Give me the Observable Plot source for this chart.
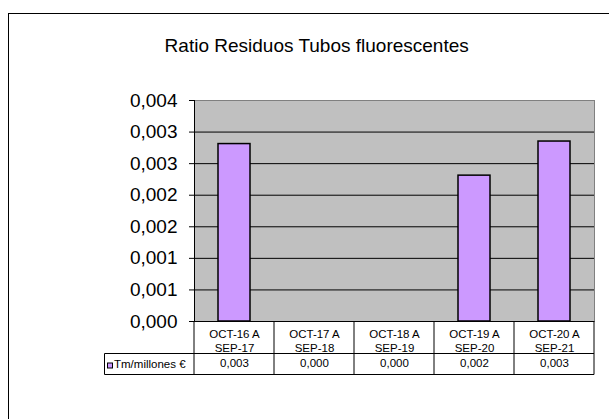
<!DOCTYPE html>
<html><head><meta charset="utf-8">
<script src="https://cdn.jsdelivr.net/npm/d3@7"></script>
<script src="https://cdn.jsdelivr.net/npm/@observablehq/plot@0.6"></script>
<style>
body{margin:0;background:#fff;font-family:"Liberation Sans",Arial,sans-serif;}
#wrap{position:relative;width:609px;height:419px;overflow:hidden;background:#fff}
#border{position:absolute;left:8px;top:13px;width:640px;height:440px;border:1.5px solid #000;box-sizing:border-box}
#title{position:absolute;left:316.7px;top:36.4px;transform:translateX(-50%);font-size:19px;line-height:19px;white-space:nowrap;color:#000}
#chart{position:absolute;left:0;top:0}
</style></head><body>
<div id="wrap"><div id="border"></div><div id="title">Ratio Residuos Tubos fluorescentes</div><div id="chart"></div></div>
<script>
const categories = ["OCT-16 A\nSEP-17", "OCT-17 A\nSEP-18", "OCT-18 A\nSEP-19", "OCT-19 A\nSEP-20", "OCT-20 A\nSEP-21"];
const values = [0.00281, 0, 0, 0.00231, 0.00285];
const yTicks = [0, 0.0005, 0.001, 0.0015, 0.002, 0.0025, 0.003, 0.0035];
const seriesName = "Tm/millones €";

const data = categories.map((c, i) => ({cat: c, value: values[i]}));
const fmt = d => d.toFixed(3).replace(".", ",");
const FONT = "'Liberation Sans', Arial, sans-serif";

const chart = Plot.plot({
  width: 609, height: 419,
  marginTop: 100, marginBottom: 98, marginLeft: 194, marginRight: 15,
  style: {fontFamily: FONT, background: "transparent", color: "#000", overflow: "visible"},
  x: {domain: categories, padding: 0, axis: null},
  y: {domain: [0, 0.0035], axis: null},
  marks: [
    Plot.frame({fill: "#c0c0c0", stroke: "#808080"}),
    Plot.ruleY(yTicks.slice(1, -1), {stroke: "#000", strokeWidth: 1}),
    Plot.barY(data, {x: "cat", y: "value", fill: "#cc99ff", stroke: "#000", strokeWidth: 1.5, insetLeft: 24, insetRight: 24}),
    Plot.ruleY([0], {stroke: "#000"}),
    Plot.frame({anchor: "left", stroke: "#000"}),
    Plot.axisY({ticks: yTicks, tickFormat: fmt, tickSize: 5, tickPadding: 12, fontSize: 19, stroke: "#000", label: null}),
    Plot.axisX({tickSize: 0, tickPadding: 7, fontSize: 11.5, lineHeight: 1.17, label: null}),
    Plot.text(data, {x: "cat", text: d => fmt(d.value), frameAnchor: "bottom", dy: 45, fontSize: 11.5})
  ]
});
document.getElementById("chart").appendChild(chart);

// data table grid, aligned with Plot's x scale
const xs = chart.scale("x");
const ys = chart.scale("y");
const bw = xs.bandwidth;
const edges = categories.map(c => xs.apply(c)).concat([xs.apply(categories[categories.length - 1]) + bw]);
const yTop = ys.apply(0);
const yMid = yTop + 32.5;
const yBot = yTop + 53.5;
const left = 104.5;
const svg = d3.select(chart);
const g = svg.append("g").attr("stroke", "#000").attr("stroke-width", 1);
edges.forEach(x => g.append("line").attr("x1", x).attr("x2", x).attr("y1", yTop).attr("y2", yBot));
g.append("line").attr("x1", left).attr("x2", edges[edges.length - 1]).attr("y1", yMid).attr("y2", yMid);
g.append("line").attr("x1", left).attr("x2", edges[edges.length - 1]).attr("y1", yBot).attr("y2", yBot);
g.append("line").attr("x1", left).attr("x2", left).attr("y1", yMid).attr("y2", yBot);
svg.append("rect").attr("x", 107.5).attr("y", yMid + 9.5).attr("width", 5).attr("height", 5)
  .attr("fill", "#cc99ff").attr("stroke", "#000").attr("stroke-width", 1);
svg.append("text").attr("x", 114).attr("y", yMid + 14.7).attr("font-size", 11.5)
  .attr("text-anchor", "start").attr("font-family", FONT).attr("fill", "#000").text(seriesName);
</script>
</body></html>
